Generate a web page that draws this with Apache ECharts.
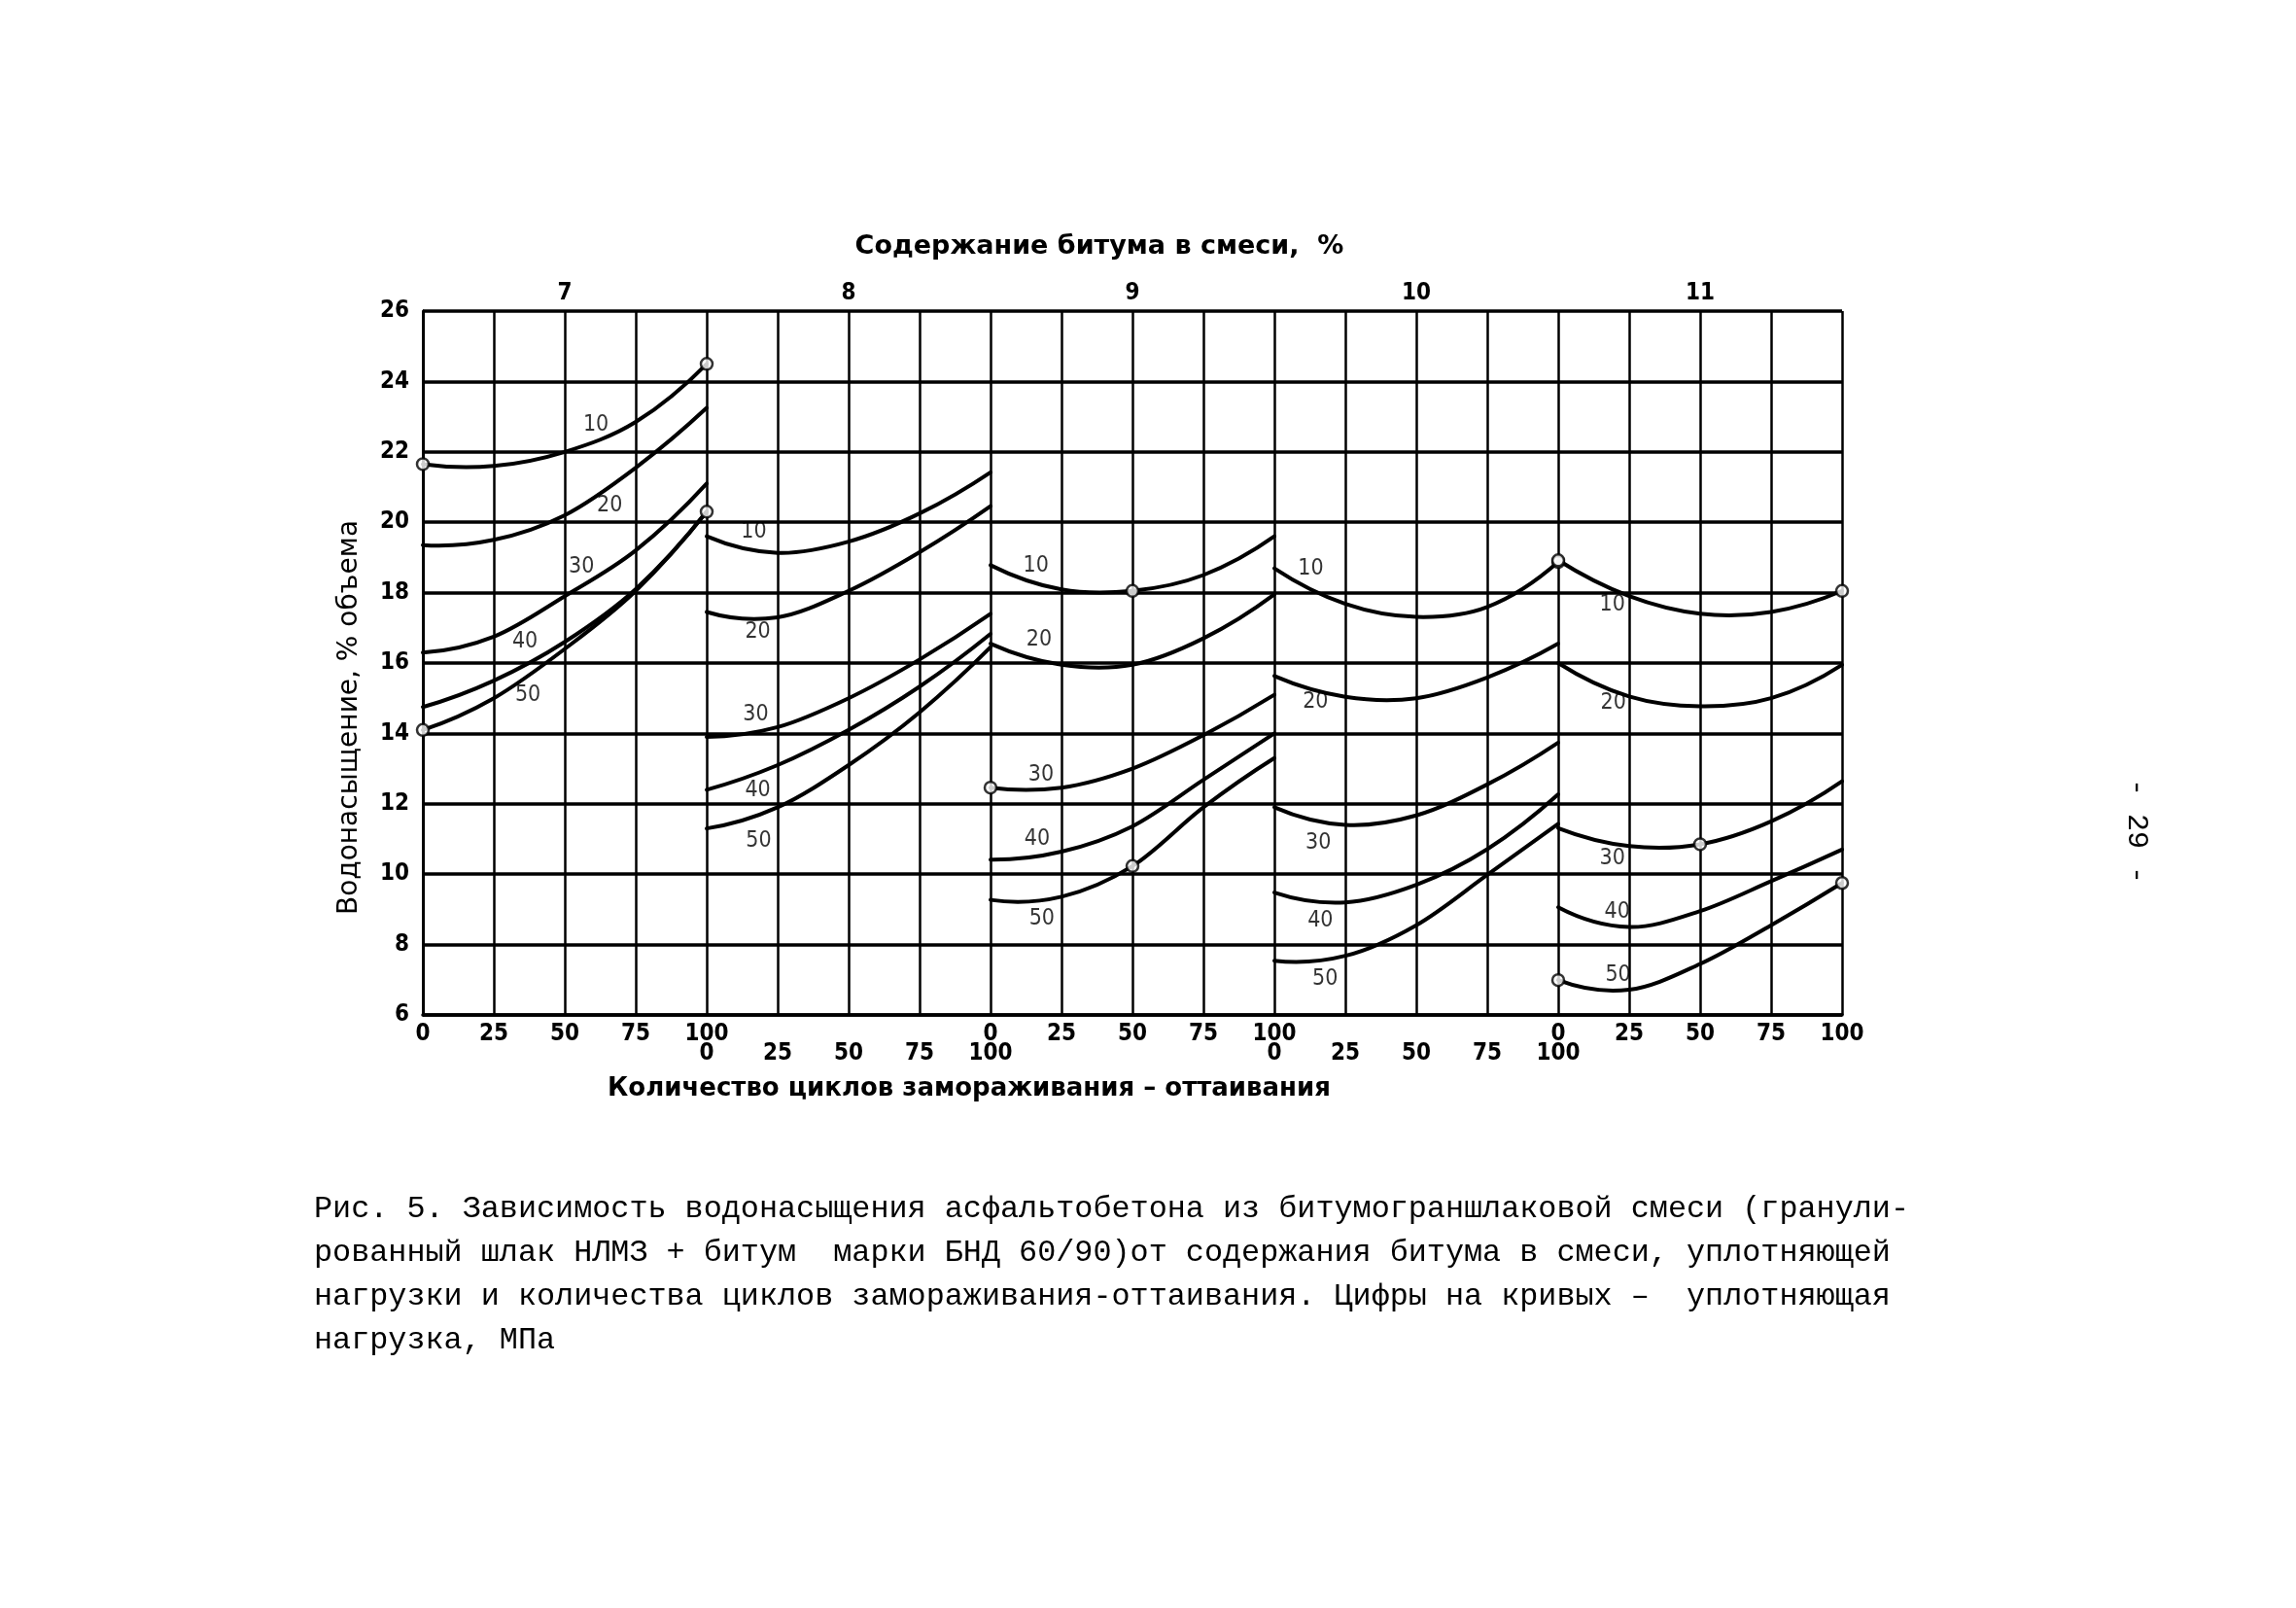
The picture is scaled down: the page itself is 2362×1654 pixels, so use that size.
<!DOCTYPE html>
<html><head><meta charset="utf-8">
<script src="https://cdn.jsdelivr.net/npm/echarts@6/dist/echarts.min.js"></script>
<style>html,body{margin:0;padding:0;background:#fff}#c{width:2362px;height:1654px}</style>
</head><body><div id="c"></div>
<script>
// ---- data ----
const cycles = [0, 25, 50, 75, 100];
const bitumenContent = ['7', '8', '9', '10', '11'];
const loadsMPa = ['10', '20', '30', '40', '50'];

// water saturation, % by volume; rows = load 10..50 MPa, columns = cycles 0..100
const bit7 = [
  [21.65, 21.6, 22.0, 22.85, 24.5],
  [19.35, 19.5, 20.2, 21.55, 23.25],
  [16.3, 16.75, 17.9, 19.2, 21.1],
  [14.75, 15.5, 16.6, 18.1, 20.3],
  [14.1, 15.0, 16.4, 18.05, 20.3]
];
const bit8 = [
  [19.6, 19.13, 19.45, 20.25, 21.42],
  [17.45, 17.3, 18.05, 19.15, 20.46],
  [13.9, 14.18, 15.0, 16.1, 17.4],
  [12.4, 13.1, 14.1, 15.33, 16.83],
  [11.3, 11.9, 13.1, 14.6, 16.45]
];
const bit9 = [
  [18.78, 18.09, 18.05, 18.5, 19.6],
  [16.55, 15.95, 15.95, 16.7, 17.95],
  [12.46, 12.46, 13.0, 13.95, 15.1],
  [10.41, 10.64, 11.36, 12.68, 14.0],
  [9.27, 9.36, 10.23, 11.9, 13.3]
];
const bit10 = [
  [18.69, 17.68, 17.31, 17.59, 18.87],
  [15.63, 15.04, 15.0, 15.59, 16.55],
  [11.9, 11.4, 11.67, 12.55, 13.74],
  [9.48, 9.2, 9.7, 10.71, 12.27],
  [7.54, 7.68, 8.55, 9.98, 11.43]
];
const bit11 = [
  [18.92, 17.9, 17.4, 17.45, 18.05],
  [16.0, 15.05, 14.77, 15.0, 15.95],
  [11.31, 10.8, 10.85, 11.5, 12.64],
  [9.06, 8.5, 8.95, 9.8, 10.7],
  [6.99, 6.72, 7.45, 8.55, 9.75]
];
const groups = [bit7, bit8, bit9, bit10, bit11];

// points drawn as open circles: [group, load index, cycle index]
const circled = [
  [0, 0, 0], [0, 0, 4], [0, 4, 0], [0, 4, 4],
  [2, 0, 2], [2, 2, 0], [2, 4, 2],
  [3, 0, 4],
  [4, 0, 0], [4, 0, 4], [4, 2, 2], [4, 4, 0], [4, 4, 4]
];

// curve label anchors: [cycle within group, value]
const labelPos7 = [[61, 22.77], [65.8, 20.48], [55.9, 18.73], [36, 16.6], [37, 15.09]];
const labelPos8 = [[16.6, 19.73], [18, 16.88], [17.3, 14.54], [18, 12.38], [18.3, 10.94]];
const labelPos9 = [[16, 18.76], [17.1, 16.66], [17.8, 12.82], [16.4, 11.0], [18.1, 8.73]];
const labelPos10 = [[12.8, 18.68], [14.5, 14.9], [15.5, 10.89], [16.2, 8.68], [17.9, 7.02]];
const labelPos11 = [[19.1, 17.66], [19.4, 14.87], [19.1, 10.45], [20.8, 8.93], [21.1, 7.13]];
const labelPos = [labelPos7, labelPos8, labelPos9, labelPos10, labelPos11];

// bottom tick labels (two rows), one entry per 25-cycle tick
const bottomRow1 = ['0','25','50','75','100','','','','0','25','50','75','100','','','','0','25','50','75','100'];
const bottomRow2 = ['','','','','0','25','50','75','100','','','','0','25','50','75','100','','','',''];

const caption = [
  'Рис. 5. Зависимость водонасыщения асфальтобетона из битумограншлаковой смеси (гранули-',
  'рованный шлак НЛМЗ + битум  марки БНД 60/90)от содержания битума в смеси, уплотняющей',
  'нагрузки и количества циклов замораживания-оттаивания. Цифры на кривых –  уплотняющая',
  'нагрузка, МПа'
];

// ---- chart ----
const narrow = "'Liberation Sans Narrow', 'DejaVu Sans Condensed', 'Liberation Sans', sans-serif";
const chart = echarts.init(document.getElementById('c'), null, {renderer: 'canvas'});

// Catmull-Rom style cubic path through the projected data points
function curvePath(P) {
  const n = P.length;
  const ext = (i) => {
    if (i < 0) return [3 * P[0][0] - 3 * P[1][0] + P[2][0], 3 * P[0][1] - 3 * P[1][1] + P[2][1]];
    if (i >= n) return [3 * P[n - 1][0] - 3 * P[n - 2][0] + P[n - 3][0], 3 * P[n - 1][1] - 3 * P[n - 2][1] + P[n - 3][1]];
    return P[i];
  };
  let d = 'M' + P[0][0] + ' ' + P[0][1];
  for (let i = 0; i < n - 1; i++) {
    const p0 = ext(i - 1), p1 = P[i], p2 = P[i + 1], p3 = ext(i + 2);
    const c1 = [p1[0] + (p2[0] - p0[0]) / 6, p1[1] + (p2[1] - p0[1]) / 6];
    const c2 = [p2[0] - (p3[0] - p1[0]) / 6, p2[1] - (p3[1] - p1[1]) / 6];
    d += ' C' + c1[0] + ' ' + c1[1] + ' ' + c2[0] + ' ' + c2[1] + ' ' + p2[0] + ' ' + p2[1];
  }
  return d;
}

const curveItems = [];
groups.forEach((g, gi) => g.forEach((vals, li) => curveItems.push([gi * 100 + 50, vals[2], gi, li])));

const series = [];
series.push({
  type: 'custom', xAxisIndex: 0, yAxisIndex: 0, silent: true, z: 5,
  data: curveItems,
  renderItem: (params, api) => {
    const gi = api.value(2), li = api.value(3);
    const pts = cycles.map((c, i) => api.coord([gi * 100 + c, groups[gi][li][i]]));
    return {type: 'path', shape: {pathData: curvePath(pts)},
            style: {stroke: '#000', lineWidth: 4, fill: 'none', lineCap: 'round', lineJoin: 'round'}};
  }
});
series.push({
  type: 'scatter', xAxisIndex: 0, yAxisIndex: 0, silent: true, z: 6,
  symbol: 'circle', symbolSize: 12,
  itemStyle: {color: '#fff', borderColor: '#000', borderWidth: 2.5},
  data: circled.map(([gi, li, ci]) => [gi * 100 + cycles[ci], groups[gi][li][ci]])
});
const lblData = [];
labelPos.forEach((arr, gi) => arr.forEach((p, li) => lblData.push({value: [gi * 100 + p[0], p[1]], name: loadsMPa[li]})));
series.push({
  type: 'scatter', xAxisIndex: 0, yAxisIndex: 0, silent: true, z: 7,
  symbolSize: 1, itemStyle: {color: 'rgba(0,0,0,0)'},
  label: {show: true, position: 'inside', formatter: p => p.name, color: '#000',
          fontFamily: narrow, fontSize: 23},
  data: lblData
});

const tickFont = {color: '#000', fontFamily: narrow, fontWeight: 'bold', fontSize: 24};

chart.setOption({
  animation: false,
  backgroundColor: '#fff',
  grid: {left: 435, right: 467, top: 320, bottom: 610, containLabel: false},
  xAxis: [
    {type: 'value', position: 'bottom', min: 0, max: 500, interval: 25,
     axisLine: {show: true, lineStyle: {color: '#000', width: 3.5}},
     axisTick: {show: false},
     splitLine: {show: true, lineStyle: {color: '#000', width: 2.5}},
     axisLabel: Object.assign({margin: 8, formatter: v => bottomRow1[Math.round(v / 25)]}, tickFont)},
    {type: 'value', position: 'bottom', min: 0, max: 500, interval: 25,
     axisLine: {show: false}, axisTick: {show: false}, splitLine: {show: false},
     axisLabel: Object.assign({margin: 28, formatter: v => bottomRow2[Math.round(v / 25)]}, tickFont)},
    {type: 'value', position: 'top', min: 0, max: 500, interval: 50,
     axisLine: {show: false}, axisTick: {show: false}, splitLine: {show: false},
     axisLabel: Object.assign({margin: 6, formatter: v => (v % 100 === 50 ? bitumenContent[(v - 50) / 100] : '')}, tickFont)}
  ],
  yAxis: [{
    type: 'value', min: 6, max: 26, interval: 2,
    axisLine: {show: true, lineStyle: {color: '#000', width: 3}},
    axisTick: {show: false},
    splitLine: {show: true, lineStyle: {color: '#000', width: 3.5}},
    axisLabel: Object.assign({margin: 14}, tickFont)
  }],
  graphic: [
    {type: 'text', x: 1131, y: 254, silent: true,
     style: {text: 'Содержание битума в смеси,  %', fill: '#000', font: "bold 27px 'DejaVu Sans', sans-serif",
             textAlign: 'center', textVerticalAlign: 'middle', align: 'center', verticalAlign: 'middle'}},
    {type: 'text', x: 997, y: 1120, silent: true,
     style: {text: 'Количество циклов замораживания – оттаивания', fill: '#000', font: "bold 26px 'DejaVu Sans', sans-serif",
             textAlign: 'center', textVerticalAlign: 'middle', align: 'center', verticalAlign: 'middle'}},
    {type: 'text', x: 360, y: 738, rotation: Math.PI / 2, silent: true,
     style: {text: 'Водонасыщение, % объема', fill: '#000', font: "28px 'DejaVu Sans', sans-serif",
             textAlign: 'center', textVerticalAlign: 'middle', align: 'center', verticalAlign: 'middle'}},
    {type: 'text', x: 323, y: 1221, silent: true,
     style: {text: caption.join('\n'), fill: '#000', font: "31.8px 'Liberation Mono', 'DejaVu Sans Mono', monospace",
             lineHeight: 45, textAlign: 'left', textVerticalAlign: 'top', align: 'left', verticalAlign: 'top'}},
    {type: 'text', x: 2198, y: 855, rotation: -Math.PI / 2, silent: true,
     style: {text: '- 29 -', fill: '#000', font: "30px 'Liberation Mono', monospace",
             textAlign: 'center', textVerticalAlign: 'middle', align: 'center', verticalAlign: 'middle'}}
  ],
  series: series
});
</script>
</body></html>
